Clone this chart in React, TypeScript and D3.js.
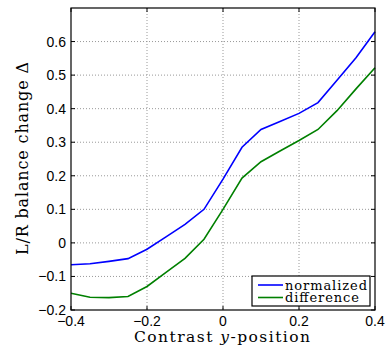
import * as d3 from "d3";

const xs = [-0.4, -0.35, -0.3, -0.25, -0.2, -0.15, -0.1, -0.05, 0, 0.05, 0.1, 0.15, 0.2, 0.25, 0.3, 0.35, 0.4];
const normalized = [-0.065, -0.062, -0.055, -0.047, -0.019, 0.018, 0.055, 0.1, 0.19, 0.285, 0.338, 0.362, 0.386, 0.418, 0.485, 0.552, 0.629];
const difference = [-0.15, -0.162, -0.163, -0.16, -0.13, -0.088, -0.046, 0.011, 0.1, 0.193, 0.242, 0.274, 0.305, 0.338, 0.394, 0.459, 0.522];
const xTicks = [-0.4, -0.2, 0, 0.2, 0.4];
const yTicks = [-0.2, -0.1, 0, 0.1, 0.2, 0.3, 0.4, 0.5, 0.6];
const series = [
  { name: "normalized", values: normalized, color: "#0000ff" },
  { name: "difference", values: difference, color: "#008000" },
];

export default function App() {
  const width = 389;
  const height = 351;
  const margin = { top: 8, right: 14, bottom: 41, left: 71 };
  const plotW = width - margin.left - margin.right;
  const plotH = height - margin.top - margin.bottom;
  const x = d3.scaleLinear([-0.4, 0.4], [margin.left, margin.left + plotW]);
  const y = d3.scaleLinear([-0.2, 0.7], [margin.top + plotH, margin.top]);
  const line = d3
    .line<number>()
    .x((_, i) => x(xs[i]))
    .y((d) => y(d));
  const sans = "'Liberation Sans', Arial, sans-serif";
  const serif = "'DejaVu Serif', serif";
  const bottom = margin.top + plotH;
  const right = margin.left + plotW;
  const fmt = (v: number) => (v === 0 ? "0" : v.toFixed(1).replace("-", "\u2212"));
  const leg = { x: 252, y: 276, w: 118, h: 30 };

  return (
    <svg
      width={width}
      height={height}
      style={{ position: "absolute", left: 0, top: 0, background: "#fff" }}
    >
      {xTicks.map((t) => (
        <g key={`x${t}`}>
          {t > -0.4 && t < 0.4 && (
            <line x1={x(t)} x2={x(t)} y1={margin.top} y2={bottom} stroke="#999" strokeWidth={1} strokeDasharray="1 2" />
          )}
          <line x1={x(t)} x2={x(t)} y1={bottom} y2={bottom - 4} stroke="#000" />
          <line x1={x(t)} x2={x(t)} y1={margin.top} y2={margin.top + 4} stroke="#000" />
          <text x={x(t)} y={326} textAnchor="middle" fontFamily={sans} fontSize={14}>
            {fmt(t)}
          </text>
        </g>
      ))}
      {yTicks.map((t) => (
        <g key={`y${t}`}>
          {t > -0.2 && (
            <line x1={margin.left} x2={right} y1={y(t)} y2={y(t)} stroke="#999" strokeWidth={1} strokeDasharray="1 2" />
          )}
          <line x1={margin.left} x2={margin.left + 4} y1={y(t)} y2={y(t)} stroke="#000" />
          <line x1={right} x2={right - 4} y1={y(t)} y2={y(t)} stroke="#000" />
          <text x={66} y={y(t) + 5} textAnchor="end" fontFamily={sans} fontSize={14}>
            {fmt(t)}
          </text>
        </g>
      ))}
      {series.map((s) => (
        <path key={s.name} d={line(s.values) ?? ""} fill="none" stroke={s.color} strokeWidth={1.6} />
      ))}
      <rect x={margin.left} y={margin.top} width={plotW} height={plotH} fill="none" stroke="#000" strokeWidth={1.2} />
      <rect x={leg.x} y={leg.y} width={leg.w} height={leg.h} fill="#fff" stroke="#000" strokeWidth={1.2} />
      {series.map((s, i) => (
        <g key={`leg${s.name}`}>
          <line x1={leg.x + 6} x2={leg.x + 31} y1={leg.y + 9 + i * 12.5} y2={leg.y + 9 + i * 12.5} stroke={s.color} strokeWidth={1.6} />
          <text x={leg.x + 33} y={leg.y + 13.5 + i * 12.5} fontFamily={serif} fontSize={13} textLength={s.name === "normalized" ? 82 : 74} lengthAdjust="spacing">
            {s.name}
          </text>
        </g>
      ))}
      <text x={134} y={342} fontFamily={serif} fontSize={15.5} textLength={176} lengthAdjust="spacing">
        Contrast <tspan fontStyle="italic">y</tspan>-position
      </text>
      <text
        transform={`translate(28, ${255}) rotate(-90)`}
        fontFamily={serif}
        fontSize={16}
        textLength={193}
        lengthAdjust="spacing"
      >
        L/R balance change Δ
      </text>
    </svg>
  );
}
